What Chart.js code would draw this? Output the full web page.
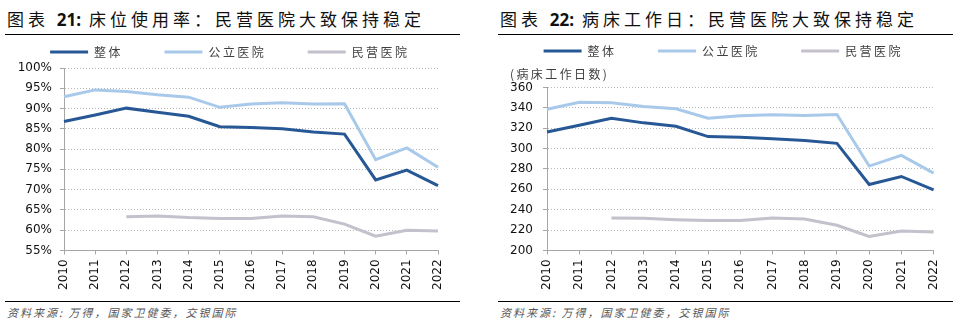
<!DOCTYPE html>
<html>
<head>
<meta charset="utf-8">
<script src="https://cdn.jsdelivr.net/npm/chart.js@4.4.1/dist/chart.umd.min.js"></script>
<style>
  html, body { margin: 0; padding: 0; background: #fff; }
  body { width: 953px; height: 332px; position: relative; overflow: hidden; font-family: "Noto Sans CJK SC", sans-serif; }
  .title { position: absolute; top: 6px; font-size: 17px; letter-spacing: 4px; color: #111; white-space: nowrap; }
  .title b { font-family: "Open Sans", "Noto Sans", sans-serif; font-weight: 700; letter-spacing: 0; }
  .rule { position: absolute; height: 1px; background: #000; }
  .src { position: absolute; top: 304px; font-size: 11px; font-style: italic; color: #555; letter-spacing: 2px; white-space: nowrap; }
  canvas { position: absolute; }
</style>
</head>
<body>
<div class="title" style="left:7px">图表 <b>21:</b> 床位使用率：民营医院大致保持稳定</div>
<div class="rule" style="left:5px; width:455px; top:34px"></div>
<div class="title" style="left:500px">图表 <b>22:</b> 病床工作日：民营医院大致保持稳定</div>
<div class="rule" style="left:498px; width:455px; top:34px"></div>

<canvas id="c1" width="476" height="257" style="left:0; top:38px"></canvas>
<canvas id="c2" width="473" height="258" style="left:480px; top:37px"></canvas>

<div class="rule" style="left:5px; width:455px; top:301px"></div>
<div class="src" style="left:7px">资料来源: 万得，国家卫健委，交银国际</div>
<div class="rule" style="left:498px; width:455px; top:301px"></div>
<div class="src" style="left:500px">资料来源: 万得，国家卫健委，交银国际</div>

<script>
  const years = ["2010", "2011", "2012", "2013", "2014", "2015", "2016", "2017", "2018", "2019", "2020", "2021", "2022"];
  const seriesNames = ["整体", "公立医院", "民营医院"];

  // 床位使用率 (%)
  const rateAll = [86.8, 88.4, 90.1, 89.1, 88.1, 85.5, 85.3, 85.0, 84.2, 83.7, 72.4, 74.8, 71.0];
  const ratePublic = [92.9, 94.6, 94.2, 93.4, 92.8, 90.3, 91.1, 91.4, 91.1, 91.2, 77.4, 80.3, 75.5];
  const ratePrivate = [null, null, 63.3, 63.5, 63.1, 62.9, 62.9, 63.5, 63.3, 61.5, 58.5, 60.0, 59.8];

  // 病床工作日 (天)
  const daysAll = [316.3, 322.9, 329.8, 325.2, 321.9, 311.7, 311.1, 309.7, 307.8, 305.1, 264.7, 272.6, 259.5];
  const daysPublic = [338.6, 345.5, 344.9, 341.3, 339.0, 329.8, 332.1, 333.1, 332.4, 333.4, 282.8, 293.3, 275.9];
  const daysPrivate = [null, null, 231.9, 231.6, 230.2, 229.3, 229.3, 231.9, 230.9, 224.7, 213.8, 219.1, 218.1];

  const colors = ["#275895", "#a9c9ea", "#c4c0cc"];
  const tickFont = { family: "DejaVu Sans", size: 12 };
  const cjkFont = { family: "Noto Sans CJK SC", size: 12 };

  // spread CJK characters a little, like the source's letter-spaced text
  const spaced = s => Array.from(s).join("\u2009");

  function datasets(values) {
    return values.map((v, i) => ({
      label: seriesNames[i],
      data: v,
      borderColor: colors[i],
      backgroundColor: colors[i],
      borderWidth: 3,
      pointRadius: 0,
      tension: 0,
      spanGaps: false
    }));
  }

  function legendLabels(chart) {
    const n = chart.data.datasets.length;
    return chart.data.datasets.map((ds, i) => ({
      text: spaced(ds.label) + (i < n - 1 ? "\u2003\u2003\u2003" : ""),
      fillStyle: ds.borderColor,
      strokeStyle: ds.borderColor,
      lineWidth: 0,
      fontColor: "#404040",
      hidden: false,
      datasetIndex: i
    }));
  }

  function makeChart(id, values, yOpts, extra) {
    return new Chart(document.getElementById(id), {
      type: "line",
      data: { labels: years, datasets: datasets(values) },
      options: {
        responsive: false,
        animation: false,
        events: [],
        layout: { padding: extra.padding },
        plugins: {
          legend: {
            position: "top",
            labels: {
              boxWidth: 38,
              boxHeight: 3,
              padding: 8,
              color: "#404040",
              font: cjkFont,
              generateLabels: legendLabels
            }
          },
          subtitle: extra.subtitle || { display: false },
          tooltip: { enabled: false }
        },
        scales: {
          x: {
            offset: false,
            grid: { drawOnChartArea: false, drawTicks: true, tickLength: 4, color: "#a6a6a6" },
            border: { color: "#a6a6a6" },
            ticks: { color: "#111", font: tickFont, minRotation: 90, maxRotation: 90, padding: 5, autoSkip: false }
          },
          y: Object.assign({
            afterFit(scale) { scale.width = extra.axisWidth; },
            grid: { color: "#b8b8b8", tickLength: 4, tickColor: "#a6a6a6", tickBorderDash: [] },
            border: { color: "#a6a6a6", dash: [1, 2] }
          }, yOpts)
        }
      }
    });
  }

  makeChart("c1", [rateAll, ratePublic, ratePrivate], {
    min: 55, max: 100,
    ticks: { color: "#111", font: tickFont, padding: 8, stepSize: 5, callback: v => v + "%" }
  }, { padding: { left: 19, right: 38, top: 0, bottom: 0 }, axisWidth: 45 });

  makeChart("c2", [daysAll, daysPublic, daysPrivate], {
    min: 200, max: 360,
    ticks: { color: "#111", font: tickFont, padding: 10, stepSize: 20 }
  }, {
    padding: { left: 30, right: 19, top: 0, bottom: 0 },
    axisWidth: 37,
    subtitle: {
      display: true,
      text: spaced("(病床工作日数)"),
      align: "start",
      weight: 500,
      color: "#404040",
      font: cjkFont,
      padding: { top: 0, bottom: 6 }
    }
  });
</script>
</body>
</html>
